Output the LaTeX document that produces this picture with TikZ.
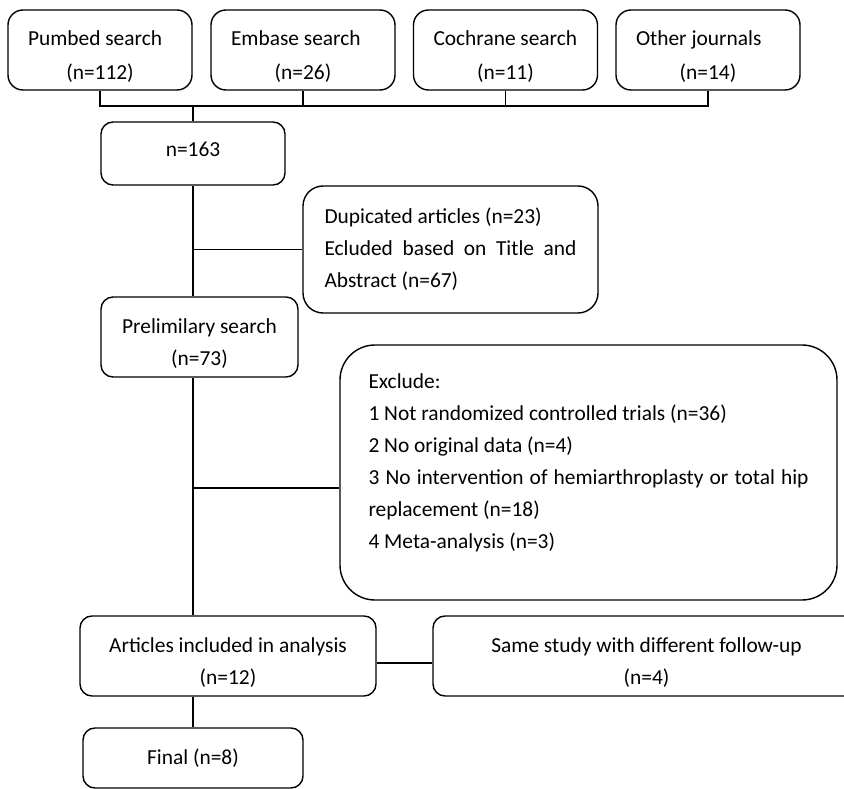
\documentclass[tikz,border=0pt]{standalone}
\usepackage{fontspec}
\setmainfont{Carlito}
\usepackage{tikz}
\tikzstyle{flowchart} = [x = 1pt, y = -1pt, every node/.style={font=\fontsize{21.4}{32}\selectfont}]
\tikzstyle{boxStyle} = [draw, line width=1.4pt, rounded corners = 12pt, align=center, inner sep=0pt]
\tikzstyle{noteBoxStyle} = [boxStyle, align=justify]
\tikzstyle{sourceBoxStyle} = [noteBoxStyle, rounded corners = 15pt, text width=144pt, inner xsep=20pt, minimum height=80pt, font=\fontsize{21.4}{34}\selectfont]
\tikzstyle{lineStyle} = [line width=1.4pt]
\newcommand{\topStrut}{\rule{0pt}{28pt}}
\newcommand{\sourceBox}[4]{\node [sourceBoxStyle] (#1) at (#2, 50) {\topStrut#3\\\makebox[\hsize]{(n=#4)}};}
\begin{document}
\begin{tikzpicture}[flowchart]
\useasboundingbox (0, 0) rectangle (844, 789);
% search sources
\sourceBox{pubmed}{100}{Pumbed search}{112}
\sourceBox{embase}{303}{Embase search}{26}
\sourceBox{cochrane}{505.5}{Cochrane search}{11}
\sourceBox{otherJournals}{708}{Other journals}{14}
% screening
\node [boxStyle, minimum width=184pt, minimum height=63pt, text depth=9pt] (total) at (193, 153.5) {n=163};
\node [noteBoxStyle, rounded corners=20pt, text width=252pt, inner xsep=21.5pt, minimum height=127pt] (duplicated) at (450.5, 249.5) {Dupicated articles (n=23)\\Ecluded based on Title and\linebreak Abstract (n=67)};
\node [boxStyle, minimum width=197pt, minimum height=80pt] (preliminary) at (199.5, 337) {\topStrut Prelimilary search\\(n=73)};
\node [noteBoxStyle, rounded corners=35pt, text width=440pt, inner xsep=28.5pt, minimum height=255pt] (exclude) at (588.5, 472.5) {Exclude:\\1 Not randomized controlled trials (n=36)\\2 No original data (n=4)\\3 No intervention of hemiarthroplasty or total hip\linebreak replacement (n=18)\\4 Meta-analysis (n=3)\\[-10pt]\mbox{}};
\node [boxStyle, minimum width=296pt, minimum height=80pt] (articles) at (228, 656) {\topStrut Articles included in analysis\\(n=12)};
\node [boxStyle, minimum width=427pt, minimum height=80pt] (sameStudy) at (646.5, 656) {\topStrut Same study with different follow-up\\(n=4)};
\node [boxStyle, minimum width=220pt, minimum height=60pt] (final) at (193, 758) {Final (n=8)};
% connectors
\coordinate (bus) at (193, 106);
\coordinate (excludeJoin) at (193, 488);
\draw [lineStyle] (pubmed.south) |- (bus) -| (otherJournals.south);
\draw [lineStyle] (embase.south) -- (embase.south |- bus);
\draw [lineStyle] (cochrane.south) -- (cochrane.south |- bus);
\draw [lineStyle] (bus) -- (total.north);
\draw [lineStyle] (total.south) -- (total.south |- preliminary.north);
\draw [lineStyle] (total.south |- duplicated.west) -- (duplicated.west);
\draw [lineStyle] (preliminary.south -| bus) -- (articles.north -| bus);
\draw [lineStyle] (excludeJoin) -- (excludeJoin -| exclude.west);
\draw [lineStyle] ([yshift=-7pt]articles.east) -- ([yshift=-7pt]articles.east -| sameStudy.west);
\draw [lineStyle] (articles.south -| bus) -- (final.north);
\end{tikzpicture}
\end{document}
